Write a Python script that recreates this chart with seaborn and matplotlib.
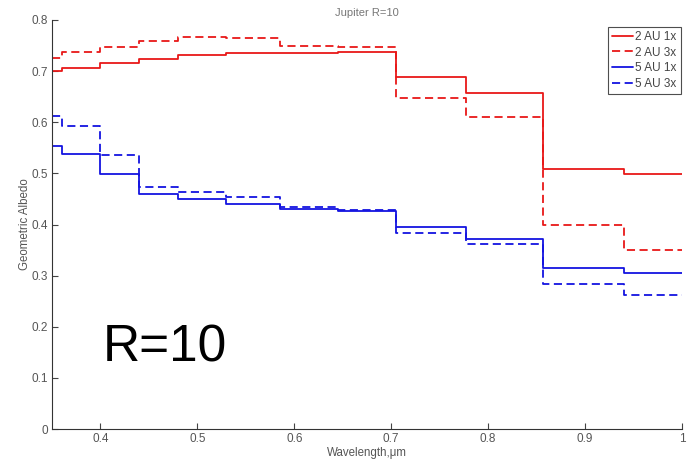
import matplotlib
matplotlib.use("Agg")
import matplotlib.pyplot as plt
import seaborn as sns
import pandas as pd

# Wavelength bin edges (µm) and step values for each series
edges = [0.35, 0.36, 0.40, 0.44, 0.48, 0.53, 0.585, 0.645, 0.705, 0.777, 0.857, 0.94, 1.0]
au2_1x = [0.700, 0.707, 0.716, 0.723, 0.731, 0.736, 0.735, 0.738, 0.688, 0.657, 0.508, 0.498]
au2_3x = [0.726, 0.737, 0.748, 0.759, 0.766, 0.764, 0.750, 0.747, 0.648, 0.611, 0.399, 0.350]
au5_1x = [0.554, 0.537, 0.498, 0.459, 0.449, 0.441, 0.431, 0.427, 0.396, 0.371, 0.315, 0.306]
au5_3x = [0.612, 0.593, 0.535, 0.473, 0.463, 0.453, 0.435, 0.428, 0.383, 0.361, 0.283, 0.263]
labels = ["2 AU 1x", "2 AU 3x", "5 AU 1x", "5 AU 3x"]
yticks = [0, 0.1, 0.2, 0.3, 0.4, 0.5, 0.6, 0.7, 0.8]
xticks = [0.4, 0.5, 0.6, 0.7, 0.8, 0.9, 1.0]

sns.set_style("white")
plt.rcParams["font.family"] = ["Liberation Sans", "DejaVu Sans"]

fig = plt.figure(figsize=(6.87, 4.62), dpi=100)
ax = fig.add_axes([52 / 687, 33 / 462, 630 / 687, 409 / 462])

series = [au2_1x, au2_3x, au5_1x, au5_3x]
colors = ["#e81818", "#e81818", "#1414e0", "#1414e0"]
styles = ["-", (0, (4.5, 2.5)), "-", (0, (4.5, 2.5))]
for lab, vals, c, ls in zip(labels, series, colors, styles):
    df = pd.DataFrame({"x": edges, "y": vals + [vals[-1]]})
    sns.lineplot(data=df, x="x", y="y", ax=ax, color=c, linestyle=ls,
                 linewidth=1.3, drawstyle="steps-post", label=lab)

ax.set_xlim(0.35, 1.0)
ax.set_ylim(0, 0.8)
ax.set_xticks(xticks)
ax.set_xticklabels([("%g" % t) for t in xticks])
ax.set_yticks(yticks)
ax.set_yticklabels([("%g" % t) for t in yticks])
ax.tick_params(direction="in", length=4, width=0.8, colors="#444444",
               labelsize=8.5, labelcolor="#555555", pad=3)
ax.tick_params(axis="both", which="both", bottom=True, left=True, top=False, right=False)
for s in ["top", "right"]:
    ax.spines[s].set_visible(False)
for s in ["left", "bottom"]:
    ax.spines[s].set_color("#333333")
    ax.spines[s].set_linewidth(0.8)

ax.set_xlabel("Wavelength,\u03bcm", fontsize=8.3, color="#555555", labelpad=1)
ax.set_ylabel("Geometric Albedo", fontsize=8.3, color="#555555", labelpad=0)

leg = ax.legend(loc="upper right", bbox_to_anchor=(0.998, 0.983), fontsize=8.5,
                frameon=True, fancybox=False, handlelength=1.8, handletextpad=0.15,
                borderpad=0.35, labelspacing=0.3, borderaxespad=0.0)
leg.get_frame().set_edgecolor("#222222")
leg.get_frame().set_linewidth(0.8)
for t in leg.get_texts():
    t.set_color("#444444")

fig.text(367 / 687, 1 - 13 / 462, "Jupiter R=10", ha="center", va="center",
         fontsize=8, color="#777777")
ax.text(103 / 687, 1 - 361 / 462, "R=10", transform=fig.transFigure,
        fontsize=37, color="black", ha="left", va="baseline")

fig.savefig("out.png", dpi=100)
